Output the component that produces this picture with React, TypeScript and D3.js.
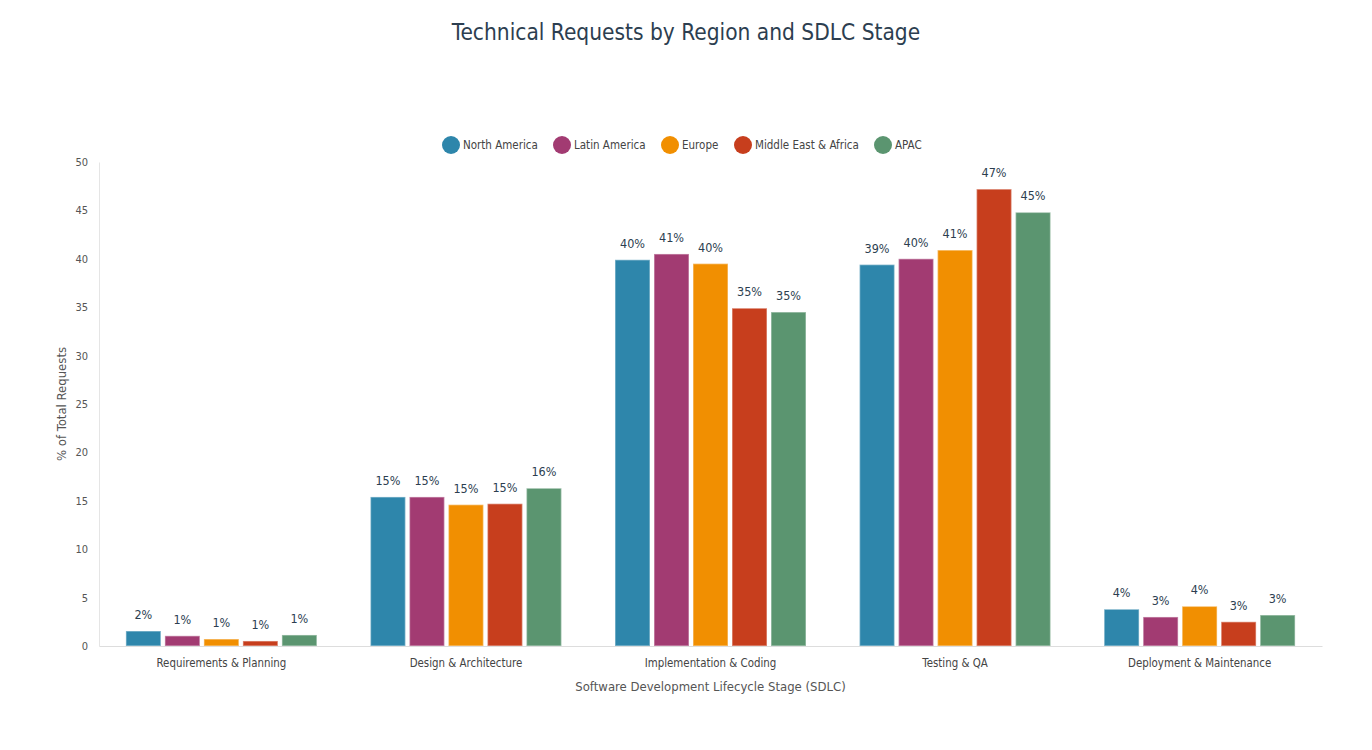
import React, { useRef, useEffect } from 'react';
import * as d3 from 'd3';

const stages = [
  'Requirements & Planning',
  'Design & Architecture',
  'Implementation & Coding',
  'Testing & QA',
  'Deployment & Maintenance',
];
const regions = ['North America', 'Latin America', 'Europe', 'Middle East & Africa', 'APAC'];
const colors = ['#2E86AB', '#A23B72', '#F18F01', '#C73E1D', '#5B9570'];

const northAmerica = [1.55, 15.4, 39.9, 39.4, 3.8];
const latinAmerica = [1.05, 15.4, 40.5, 40.0, 3.0];
const europe = [0.72, 14.6, 39.5, 40.9, 4.1];
const middleEastAfrica = [0.52, 14.7, 34.9, 47.2, 2.5];
const apac = [1.14, 16.3, 34.5, 44.8, 3.2];
const yTicks = [0, 5, 10, 15, 20, 25, 30, 35, 40, 45, 50];

const FONT = '"DejaVu Sans Condensed", "DejaVu Sans", sans-serif';

function App() {
  const svgRef = useRef<SVGSVGElement>(null);

  useEffect(() => {
    const width = 1372;
    const height = 750;
    const marginLeft = 99;
    const marginRight = 50;
    const marginTop = 162;
    const marginBottom = 104;

    const series = [northAmerica, latinAmerica, europe, middleEastAfrica, apac];
    const data = stages.flatMap((s, i) =>
      regions.map((r, j) => ({ stage: s, region: r, value: series[j][i], color: colors[j] }))
    );

    const x = d3.scaleBand()
      .domain(stages)
      .range([marginLeft, width - marginRight])
      .paddingInner(0.219)
      .paddingOuter(0.11);

    const xSub = d3.scaleBand()
      .domain(regions)
      .range([0, x.bandwidth()])
      .paddingInner(0.103)
      .paddingOuter(0);

    const y = d3.scaleLinear()
      .domain([0, 50])
      .range([height - marginBottom, marginTop]);

    const svg = d3.select(svgRef.current);
    svg.selectAll('*').remove();
    svg.attr('width', width)
      .attr('height', height)
      .attr('viewBox', [0, 0, width, height])
      .style('font-family', FONT)
      .style('display', 'block');

    svg.append('rect').attr('width', width).attr('height', height).attr('fill', '#fff');

    // title
    svg.append('text')
      .attr('x', width / 2)
      .attr('y', 40)
      .attr('text-anchor', 'middle')
      .attr('font-size', 22.5)
      .attr('fill', '#2c3e50')
      .text('Technical Requests by Region and SDLC Stage');

    // legend
    const legendX = [451, 562, 670, 743, 883];
    const legend = svg.append('g');
    regions.forEach((r, i) => {
      legend.append('circle').attr('cx', legendX[i]).attr('cy', 145).attr('r', 9).attr('fill', colors[i]);
      legend.append('text')
        .attr('x', legendX[i] + 12)
        .attr('y', 149)
        .attr('font-size', 11.5)
        .attr('fill', '#444')
        .text(r);
    });

    // bars
    svg.append('g')
      .selectAll('rect')
      .data(data)
      .join('rect')
      .attr('x', d => x(d.stage)! + xSub(d.region)!)
      .attr('y', d => y(d.value))
      .attr('width', xSub.bandwidth())
      .attr('height', d => y(0) - y(d.value))
      .attr('fill', d => d.color)
      .attr('stroke', '#fff')
      .attr('stroke-opacity', 0.4)
      .attr('stroke-width', 1.5);

    // value labels
    svg.append('g')
      .attr('text-anchor', 'middle')
      .selectAll('text')
      .data(data)
      .join('text')
      .attr('x', d => x(d.stage)! + xSub(d.region)! + xSub.bandwidth() / 2)
      .attr('y', d => y(d.value) - 12)
      .attr('font-size', 12.5)
      .attr('fill', '#2c3e50')
      .text(d => `${Math.round(d.value)}%`);

    // x axis
    const xAxis = svg.append('g')
      .attr('transform', `translate(0,${height - marginBottom})`)
      .call(d3.axisBottom(x).tickSize(0).tickPadding(13));
    xAxis.select('.domain').attr('stroke', '#ddd');
    xAxis.selectAll('text').attr('font-size', 11.4).attr('fill', '#444').attr('font-family', FONT);

    // y axis
    const yAxis = svg.append('g')
      .attr('transform', `translate(${marginLeft},0)`)
      .call(d3.axisLeft(y).tickValues(yTicks).tickSize(0).tickPadding(11));
    yAxis.select('.domain').attr('stroke', '#e5e5e5');
    yAxis.selectAll('text').attr('font-size', 11).attr('fill', '#555').attr('font-family', FONT);

    // axis titles
    svg.append('text')
      .attr('x', (marginLeft + width - marginRight) / 2)
      .attr('y', 691)
      .attr('text-anchor', 'middle')
      .attr('font-size', 13)
      .attr('fill', '#555')
      .text('Software Development Lifecycle Stage (SDLC)');

    svg.append('text')
      .attr('transform', `translate(66,${(marginTop + height - marginBottom) / 2}) rotate(-90)`)
      .attr('text-anchor', 'middle')
      .attr('font-size', 13)
      .attr('fill', '#555')
      .text('% of Total Requests');
  }, []);

  return (
    <div style={{ margin: -8 }}>
      <svg ref={svgRef}></svg>
    </div>
  );
}

export default App;
